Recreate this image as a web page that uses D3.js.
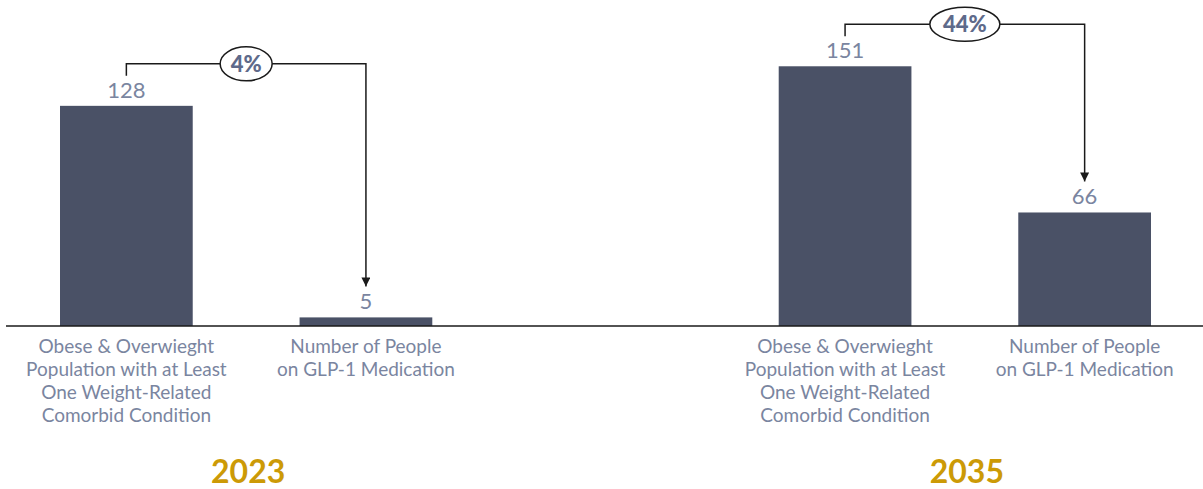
<!DOCTYPE html>
<html>
<head>
<meta charset="utf-8">
<script src="https://cdn.jsdelivr.net/npm/d3@7"></script>
<style>
  body { margin: 0; background: #fff; }
  text { font-family: Lato, "Noto Sans", sans-serif; }
</style>
</head>
<body>
<svg id="chart"></svg>
<script>
var years = ["2023", "2035"];
var categories = ["obese", "glp1"];
var categoryLabels = [
  ["Obese & Overwieght", "Population with at Least", "One Weight-Related", "Comorbid Condition"],
  ["Number of People", "on GLP-1 Medication"]
];
var values2023 = [128, 5];
var values2035 = [151, 66];
var shares = ["4%", "44%"];

var width = 1203, height = 489;
var baseY = 326;

var data = years.map(function (yr, i) {
  var vals = i === 0 ? values2023 : values2035;
  return { year: yr, share: shares[i], bars: categories.map(function (c, j) { return { cat: c, value: vals[j] }; }) };
});

var svg = d3.select("#chart").attr("width", width).attr("height", height);

var x0 = d3.scaleBand().domain(years).range([60, 1151]).paddingInner(0.482).paddingOuter(0);
var x1 = d3.scaleBand().domain(categories).range([0, x0.bandwidth()]).paddingInner(0.446).paddingOuter(0);
var y = d3.scaleLinear().domain([0, 160]).range([baseY, baseY - 160 * 1.72]);

svg.append("defs").append("marker")
  .attr("id", "arrow")
  .attr("viewBox", "0 0 10 10")
  .attr("refX", 10).attr("refY", 5)
  .attr("markerWidth", 9).attr("markerHeight", 9)
  .attr("markerUnits", "userSpaceOnUse")
  .attr("orient", "auto")
  .append("path").attr("d", "M0,0L10,5L0,10Z").attr("fill", "#1a1a1a");

var groups = svg.selectAll(".grp").data(data).enter().append("g")
  .attr("class", "grp")
  .attr("transform", function (d) { return "translate(" + x0(d.year) + ",0)"; });

groups.selectAll("rect").data(function (d) { return d.bars; }).enter().append("rect")
  .attr("fill", "#4a5166")
  .attr("x", function (d) { return x1(d.cat); })
  .attr("width", x1.bandwidth())
  .attr("y", function (d) { return y(d.value); })
  .attr("height", function (d) { return baseY - y(d.value); });

groups.selectAll(".val").data(function (d) { return d.bars; }).enter().append("text")
  .attr("class", "val")
  .attr("x", function (d) { return x1(d.cat) + x1.bandwidth() / 2; })
  .attr("y", function (d) { return y(d.value) - 8; })
  .attr("text-anchor", "middle")
  .attr("font-size", 22)
  .attr("fill", "#7a85a0")
  .text(function (d) { return d.value; });

// bracket with arrow
groups.each(function (d) {
  var g = d3.select(this);
  var xa = x1(categories[0]) + x1.bandwidth() / 2;
  var xb = x1(categories[1]) + x1.bandwidth() / 2;
  var topY = y(d.bars[0].value) - 42;
  var tipY = y(d.bars[1].value) - 31;
  g.append("path")
    .attr("d", "M" + xa + "," + (topY + 12) + "V" + topY + "H" + xb + "V" + tipY)
    .attr("fill", "none").attr("stroke", "#1a1a1a").attr("stroke-width", 1.5)
    .attr("marker-end", "url(#arrow)");
  var cx = (xa + xb) / 2;
  var rx = d.share.length > 2 ? 35 : 26;
  g.append("ellipse")
    .attr("cx", cx).attr("cy", topY).attr("rx", rx).attr("ry", 17)
    .attr("fill", "#fff").attr("stroke", "#1a1a1a").attr("stroke-width", 1.5);
  g.append("text")
    .attr("x", cx).attr("y", topY + 8)
    .attr("text-anchor", "middle")
    .attr("font-size", 22).attr("font-weight", 900)
    .attr("fill", "#5e6a8a")
    .text(d.share);
});

// category labels
groups.selectAll(".lbl").data(function (d) { return d.bars; }).enter().append("text")
  .attr("class", "lbl")
  .attr("text-anchor", "middle")
  .attr("font-size", 19)
  .attr("fill", "#7a85a0")
  .each(function (d, i) {
    var t = d3.select(this);
    var cx = x1(d.cat) + x1.bandwidth() / 2;
    categoryLabels[i].forEach(function (line, k) {
      t.append("tspan").attr("x", cx).attr("y", 353 + k * 23).text(line);
    });
  });

// year labels
groups.append("text")
  .attr("x", x0.bandwidth() / 2 + 2)
  .attr("y", 483)
  .attr("text-anchor", "middle")
  .attr("font-family", "'Liberation Sans', Arial, sans-serif")
  .attr("font-size", 32).attr("font-weight", "bold")
  .attr("fill", "#cc9a06")
  .text(function (d) { return d.year; });

// baseline
svg.append("line")
  .attr("x1", 6).attr("x2", width).attr("y1", baseY).attr("y2", baseY)
  .attr("stroke", "#1a1a1a").attr("stroke-width", 1.5);
</script>
</body>
</html>
